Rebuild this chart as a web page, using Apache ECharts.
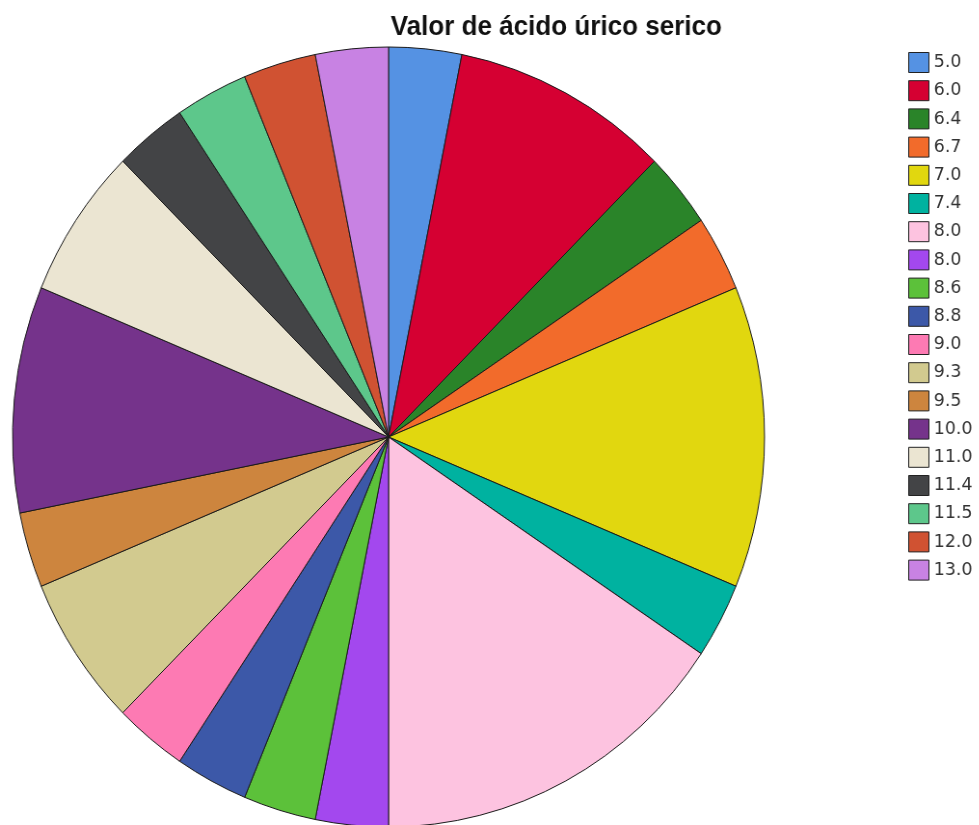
<!DOCTYPE html>
<html>
<head>
<meta charset="utf-8">
<title>Valor de ácido úrico serico</title>
<script src="https://cdn.jsdelivr.net/npm/echarts@6/dist/echarts.min.js"></script>
<style>
  html, body { margin: 0; padding: 0; background: #fff; overflow: hidden; }
  /* the chart is laid out slightly wider and squeezed horizontally,
     so the pie comes out a little taller than wide */
  #chart { width: 1016px; height: 825px; transform: scaleX(0.9641); transform-origin: 0 0; }
</style>
</head>
<body>
<div id="chart"></div>
<script>
// Serum uric acid values and number of cases for each value
const categories = ['5.0', '6.0', '6.4', '6.7', '7.0', '7.4', '8.0', '8.0', '8.6', '8.8',
                    '9.0', '9.3', '9.5', '10.0', '11.0', '11.4', '11.5', '12.0', '13.0'];
const counts = [1, 3, 1, 1, 4, 1, 5, 1, 1, 1, 1, 2, 1, 3, 2, 1, 1, 1, 1];
const sliceColors = ['#5592e3', '#d50032', '#2a8429', '#f26b2b', '#e1d70f', '#00b2a0',
                     '#fdc3e0', '#a348ee', '#5cc13a', '#3c58a8', '#fd7ab3', '#d2ca8f',
                     '#cd853e', '#75338b', '#ebe5d2', '#434446', '#5dc78b', '#d05232', '#c882e3'];
const chartTitle = 'Valor de ácido úrico serico';

// Repeated values get a trailing space so each slice keeps its own legend entry
const seen = {};
const names = categories.map(c => {
  let n = c;
  while (seen[n]) n += ' ';
  seen[n] = true;
  return n;
});

const pieData = names.map((n, i) => ({
  name: n,
  value: counts[i],
  itemStyle: { color: sliceColors[i] }
}));

const chart = echarts.init(document.getElementById('chart'), null, { renderer: 'canvas' });
chart.setOption({
  animation: false,
  backgroundColor: '#ffffff',
  title: {
    text: chartTitle,
    left: 577,
    top: 14,
    padding: 0,
    textAlign: 'center',
    textStyle: {
      fontFamily: 'Liberation Sans, Arial, sans-serif',
      fontWeight: 'bold',
      fontSize: 27,
      color: '#111'
    }
  },
  legend: {
    orient: 'vertical',
    left: 942,
    top: 52,
    padding: 0,
    icon: 'rect',
    itemWidth: 21,
    itemHeight: 20,
    itemGap: 7.2,
    selectedMode: false,
    data: names,
    itemStyle: { borderColor: '#222', borderWidth: 1 },
    textStyle: {
      fontFamily: 'DejaVu Sans, sans-serif',
      fontSize: 18,
      lineHeight: 18,
      color: '#333',
      padding: [0, 0, 0, 0]
    }
  },
  series: [{
    type: 'pie',
    center: [403, 437],
    radius: [0, 390],
    startAngle: 90,
    clockwise: true,
    avoidLabelOverlap: false,
    label: { show: false },
    labelLine: { show: false },
    emphasis: { disabled: true },
    itemStyle: { borderColor: '#1a1a1a', borderWidth: 1 },
    data: pieData
  }]
});
</script>
</body>
</html>
